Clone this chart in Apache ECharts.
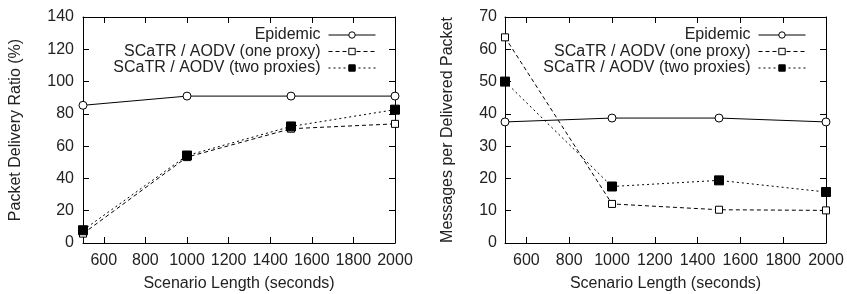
<!DOCTYPE html>
<html><head><meta charset="utf-8">
<script src="https://cdn.jsdelivr.net/npm/echarts@6/dist/echarts.min.js"></script>
<style>html,body{margin:0;padding:0;background:#fff}#c{width:847px;height:294px}</style>
</head><body><div id="c"></div>
<script>
const scenarioLengths = [500, 1000, 1500, 2000];
const xTicks = [600, 800, 1000, 1200, 1400, 1600, 1800, 2000];
const seriesNames = ['Epidemic', 'SCaTR / AODV (one proxy)', 'SCaTR / AODV (two proxies)'];
const pdrEpidemic = [85.3, 91, 91, 91];
const pdrOneProxy = [5.8, 53.2, 70.8, 73.8];
const pdrTwoProxies = [7.9, 54.2, 72.2, 82.6];
const mpdEpidemic = [37.5, 38.7, 38.7, 37.5];
const mpdOneProxy = [63.7, 12.1, 10.3, 10.1];
const mpdTwoProxies = [50.0, 17.5, 19.4, 15.8];
const pdrTicks = [0, 20, 40, 60, 80, 100, 120, 140];
const mpdTicks = [0, 10, 20, 30, 40, 50, 60, 70];

const FONT = '"Liberation Sans", Arial, sans-serif';
const FS = 16;
const TXT = '#222';
const chart = echarts.init(document.getElementById('c'));

function pts(vals){ return scenarioLengths.map((x,i)=>[x, vals[i]]); }
const plain = v => String(v);

function xAxes(gi){
  const base = {gridIndex: gi, type:'value', min:500, max:2000,
    splitLine:{show:false},
    axisLine:{show:true, onZero:false, lineStyle:{color:'#000', width:1}},
    axisTick:{show:true, inside:true, length:6, customValues:xTicks, lineStyle:{color:'#000'}}};
  return [
    Object.assign({}, base, {position:'bottom',
      axisLabel:{show:true, customValues:xTicks, formatter:plain, color:TXT, fontFamily:FONT, fontSize:FS, margin:10},
      name:'Scenario Length (seconds)', nameLocation:'middle', nameGap:33,
      nameTextStyle:{color:TXT, fontFamily:FONT, fontSize:FS}}),
    Object.assign({}, base, {position:'top', axisLabel:{show:false}})
  ];
}
function yAxes(gi, max, ticks, name, gap, margin){
  const base = {gridIndex: gi, type:'value', min:0, max:max, interval:max/7,
    splitLine:{show:false},
    axisLine:{show:true, onZero:false, lineStyle:{color:'#000', width:1}},
    axisTick:{show:true, inside:true, length:6, lineStyle:{color:'#000'}}};
  return [
    Object.assign({}, base, {position:'left',
      axisLabel:{show:true, customValues:ticks, formatter:plain, color:TXT, fontFamily:FONT, fontSize:FS, margin:margin},
      name:name, nameLocation:'middle', nameGap:gap,
      nameTextStyle:{color:TXT, fontFamily:FONT, fontSize:FS}}),
    Object.assign({}, base, {position:'right', axisLabel:{show:false}})
  ];
}

function mkSeries(name, vals, xi, yi, kind){
  const s = {name:name, type:'line', xAxisIndex:xi, yAxisIndex:yi, data:pts(vals),
    animation:false, z:3};
  if(kind===0){ s.symbol='circle'; s.symbolSize=8; s.itemStyle={color:'#fff', borderColor:'#000', borderWidth:1};
    s.lineStyle={color:'#000', width:1, type:'solid'}; }
  if(kind===1){ s.symbol='rect'; s.symbolSize=7; s.itemStyle={color:'#fff', borderColor:'#000', borderWidth:1};
    s.lineStyle={color:'#000', width:1, type:[4,3]}; }
  if(kind===2){ s.symbol='rect'; s.symbolSize=9; s.itemStyle={color:'#000', borderColor:'#000', borderWidth:1};
    s.lineStyle={color:'#000', width:1, type:[2,3]}; }
  return s;
}

function legend(right){
  return {orient:'vertical', right:right, top:27, padding:0, align:'right', itemWidth:47, itemHeight:8, itemGap:0.5,
    lineStyle:{width:1}, itemStyle:{borderWidth:1},
    data:seriesNames, textStyle:{color:TXT, fontFamily:FONT, fontSize:FS, lineHeight:16, padding:[0,3,0,0]}, selectedMode:false};
}

const option = {
  backgroundColor:'#fff',
  animation:false,
  grid:[
    {left:83, right:452, top:17, bottom:51, show:false, containLabel:false, outerBoundsMode:'none'},
    {left:505, right:21, top:17, bottom:51, show:false, containLabel:false, outerBoundsMode:'none'}
  ],
  xAxis: xAxes(0).concat(xAxes(1)),
  yAxis: yAxes(0, 140, pdrTicks, 'Packet Delivery Ratio (%)', 59, 9).concat(yAxes(1, 70, mpdTicks, 'Messages per Delivered Packet', 49.5, 8)),
  legend:[legend(471), legend(41)],
  series:[
    mkSeries(seriesNames[0], pdrEpidemic, 0, 0, 0),
    mkSeries(seriesNames[1], pdrOneProxy, 0, 0, 1),
    mkSeries(seriesNames[2], pdrTwoProxies, 0, 0, 2),
    mkSeries(seriesNames[0], mpdEpidemic, 2, 2, 0),
    mkSeries(seriesNames[1], mpdOneProxy, 2, 2, 1),
    mkSeries(seriesNames[2], mpdTwoProxies, 2, 2, 2)
  ]
};
chart.setOption(option);
</script></body></html>
